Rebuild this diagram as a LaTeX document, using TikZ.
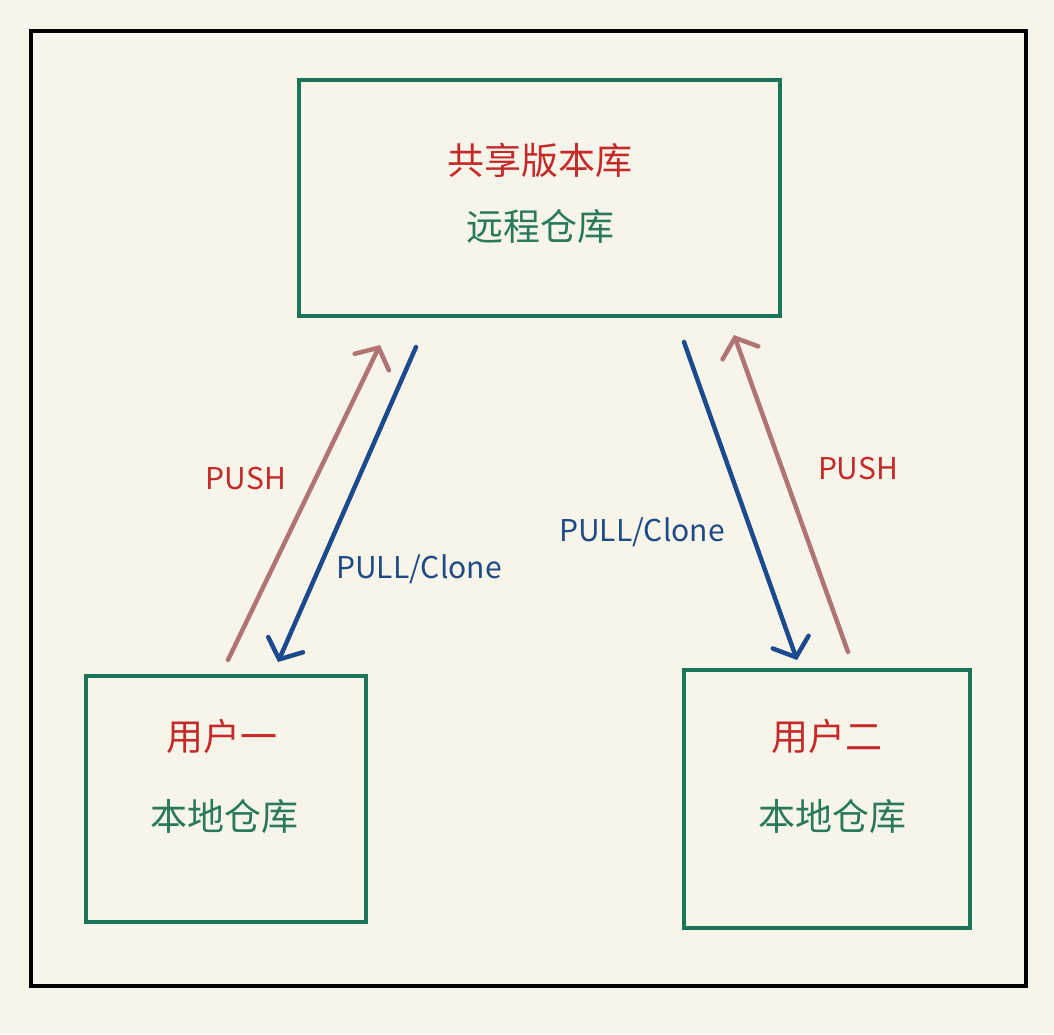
\documentclass[tikz,border=0pt]{standalone}
\usepackage{fontspec}
\setmainfont{Noto Sans CJK SC}
\usetikzlibrary{arrows.meta}
\definecolor{bg}{HTML}{F7F4E9}
\definecolor{boxgreen}{HTML}{1A7558}
\definecolor{txtred}{HTML}{C42A2A}
\definecolor{txtgreen}{HTML}{2A7A58}
\definecolor{pushcol}{HTML}{B07474}
\definecolor{pullcol}{HTML}{1C4A8E}
\definecolor{lblblue}{HTML}{1E4A86}
\tikzset{
  box/.style={draw=boxgreen, line width=4pt, rectangle, inner sep=0pt},
  title/.style={text=txtred, font=\fontsize{37}{44}\selectfont},
  sub/.style={text=txtgreen, font=\fontsize{37}{44}\selectfont},
  lbl/.style={font=\fontsize{30}{36}\selectfont},
  arr/.style={line width=4.5pt, line cap=round, -{Straight Barb[length=16pt,width=38pt,line cap=round]}},
}
\begin{document}
\begin{tikzpicture}[x=1pt,y=-1pt]
\fill[bg] (0,0) rectangle (1054,1034);
\useasboundingbox (0,0) rectangle (1054,1034);
\node[draw=black, line width=4pt, minimum width=995pt, minimum height=955pt, inner sep=0pt] (frame) at (528.5,508.5) {};
\node[box, minimum width=481pt, minimum height=236pt] (remote) at (539.5,198) {};
\node[box, minimum width=280pt, minimum height=246pt] (user1) at (226,799) {};
\node[box, minimum width=286pt, minimum height=258pt] (user2) at (827,799) {};
\node[title] (rt) at (540,160) {共享版本库};
\node[sub] (rs) at (540,227) {远程仓库};
\node[title] (u1t) at (222,736) {用户一};
\node[sub] (u1s) at (224,816) {本地仓库};
\node[title] (u2t) at (827,736) {用户二};
\node[sub] (u2s) at (832,816) {本地仓库};
\coordinate (p1s) at (228,660);
\coordinate (p1e) at (380,345);
\coordinate (l1s) at (416,347);
\coordinate (l1e) at (278,662);
\coordinate (l2s) at (684,342);
\coordinate (l2e) at (797,660);
\coordinate (p2s) at (848,652);
\coordinate (p2e) at (734,335);
\draw[arr, pushcol] (p1s) -- (p1e);
\draw[arr, pullcol] (l1s) -- (l1e);
\draw[arr, pullcol] (l2s) -- (l2e);
\draw[arr, pushcol] (p2s) -- (p2e);
\node[lbl, text=txtred] (push1) at (246,478) {PUSH};
\node[lbl, text=lblblue] (pull1) at (419,569) {PULL/Clone};
\node[lbl, text=lblblue] (pull2) at (642,532) {PULL/Clone};
\node[lbl, text=txtred] (push2) at (858,468) {PUSH};
\end{tikzpicture}
\end{document}
